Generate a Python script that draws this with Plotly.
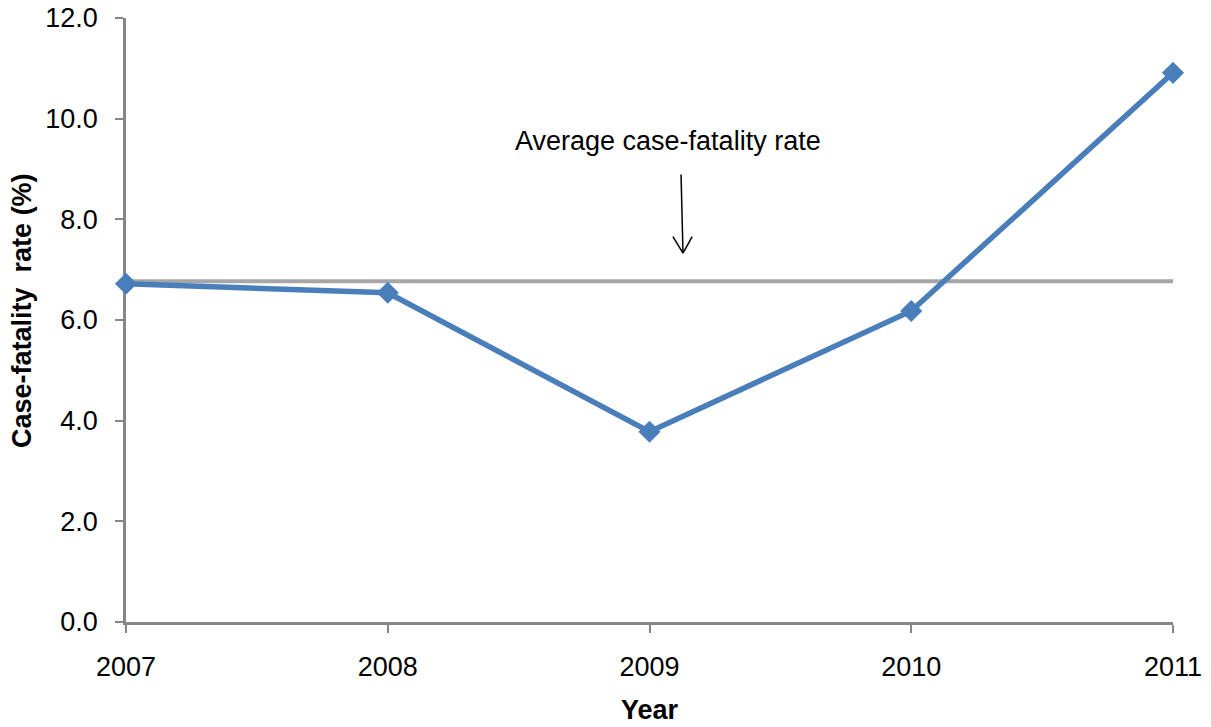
import plotly.graph_objects as go

# Yearly case-fatality rate (%)
years = [2007, 2008, 2009, 2010, 2011]
cfr = [6.72, 6.54, 3.78, 6.18, 10.91]

# Average case-fatality rate over the period (%)
avg_rate = 6.77

y_ticks = [0, 2, 4, 6, 8, 10, 12]
y_tick_labels = ["0.0", "2.0", "4.0", "6.0", "8.0", "10.0", "12.0"]

FONT = "Liberation Sans, Arial, sans-serif"
AXIS_GREY = "#868686"

fig = go.Figure()

fig.add_trace(go.Scatter(
    x=[years[0], years[-1]],
    y=[avg_rate, avg_rate],
    mode="lines",
    line=dict(color="#A6A6A6", width=4),
    hoverinfo="skip",
    showlegend=False,
    cliponaxis=False,
))

fig.add_trace(go.Scatter(
    x=years,
    y=cfr,
    mode="lines+markers",
    line=dict(color="#4A7EBB", width=5.5),
    marker=dict(symbol="diamond", size=17, color="#4A7EBB"),
    showlegend=False,
    cliponaxis=False,
))

# Label for the average line
fig.add_annotation(
    x=2009.07, y=9.56, xref="x", yref="y",
    text="Average case-fatality rate",
    showarrow=False,
    font=dict(family=FONT, size=27, color="black"),
)
# Thin arrow (shaft + two open barbs) meeting at the same tip
ARROW_TIP = dict(x=2009.128, y=7.33, xref="x", yref="y")
for dx, dy in [(-2, -80), (-11, -18), (10, -18)]:
    fig.add_annotation(
        **ARROW_TIP,
        text="",
        showarrow=True,
        ax=dx, ay=dy,
        arrowhead=0, arrowwidth=1.5, arrowcolor="black",
        standoff=0, startstandoff=0,
    )

# Axis titles
fig.add_annotation(
    x=-0.0993, y=0.515, xref="paper", yref="paper",
    text="<b>Case-fatality  rate (%)</b>",
    textangle=-90,
    showarrow=False,
    xanchor="center", yanchor="middle",
    font=dict(family=FONT, size=27, color="black"),
)
fig.add_annotation(
    x=0.5, y=-0.146, xref="paper", yref="paper",
    text="<b>Year</b>",
    showarrow=False,
    xanchor="center", yanchor="middle",
    font=dict(family=FONT, size=27, color="black"),
)

fig.update_layout(
    width=1211,
    height=727,
    margin=dict(l=126, r=38, t=18, b=105, autoexpand=False),
    plot_bgcolor="white",
    paper_bgcolor="white",
    font=dict(family=FONT, size=27, color="black"),
    xaxis=dict(
        range=[2007, 2011],
        tickmode="array",
        tickvals=years,
        ticktext=[str(y) for y in years],
        showgrid=False,
        zeroline=False,
        showline=True,
        linecolor=AXIS_GREY,
        linewidth=2.5,
        ticks="outside",
        ticklen=8,
        tickwidth=2,
        tickcolor=AXIS_GREY,
        ticklabelstandoff=11,
        layer="below traces",
        automargin=False,
    ),
    yaxis=dict(
        range=[0, 12],
        tickmode="array",
        tickvals=y_ticks,
        ticktext=y_tick_labels,
        showgrid=False,
        zeroline=False,
        showline=True,
        linecolor=AXIS_GREY,
        linewidth=2.5,
        ticks="outside",
        ticklen=8,
        tickwidth=2,
        tickcolor=AXIS_GREY,
        ticklabelstandoff=12,
        layer="below traces",
        automargin=False,
    ),
)

fig.write_html("out.html")
